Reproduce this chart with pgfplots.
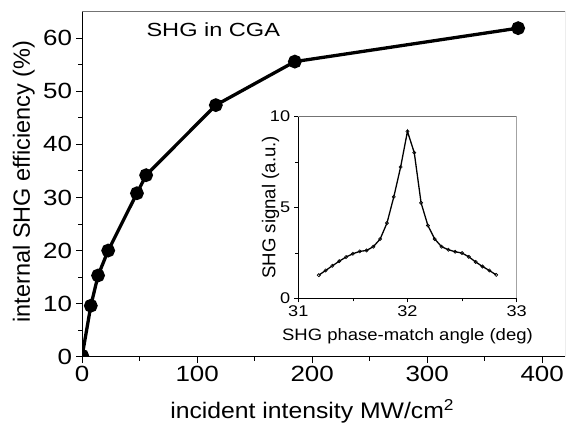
\documentclass[border=0pt]{standalone}
\usepackage{fontspec}
\setmainfont{Liberation Sans}
\usepackage{pgfplots}
\pgfplotsset{compat=1.18}
\usetikzlibrary{calc}
\begin{document}
\begin{tikzpicture}
\useasboundingbox (-82.2pt,-67.3pt) rectangle (483.8pt,356.7pt);
\begin{axis}[
  at={(0pt,0pt)}, anchor=south west,
  scale only axis, width=483pt, height=345pt,
  xmin=0, xmax=420, ymin=0, ymax=65,
  axis x line*=bottom, axis y line*=left,
  clip=true, clip marker paths=true,
  xtick={0,100,200,300,400}, ytick={0,10,20,30,40,50,60},
  minor x tick num=1, minor y tick num=1,
  tick align=outside,
  major tick length=6pt, minor tick length=4pt,
  every tick/.style={black, line width=0.9pt},
  axis line style={line width=1.1pt, -},
  /pgf/number format/assume math mode=true,
  tick label style={font=\fontsize{22}{26}\selectfont, xscale=1.18},
  xlabel={incident intensity MW/cm\textsuperscript{2}},
  ylabel={internal SHG efficiency (\%)},
  xlabel style={font=\fontsize{22.5}{27}\selectfont, xscale=1.1, at={($(axis description cs:0.4762,0)+(0,-61.8pt)$)}, anchor=base},
  ylabel style={font=\fontsize{23.5}{28}\selectfont, at={($(axis description cs:0,0.5)+(-52.2pt,2.7pt)$)}, anchor=base},
]
\addplot[black, line width=3.3pt, mark=*, mark size=5.2pt, mark options={solid}] coordinates {
(0,0.2) (7.5,9.6) (13.8,15.3) (22.6,20.0) (47.6,30.8) (55.6,34.2) (116.2,47.4) (184.9,55.6) (379.1,61.9)
};
\draw[black!55, line width=0.6pt] (rel axis cs:0,1) -- (rel axis cs:1,1) -- (rel axis cs:1,0);
\node[anchor=base, font=\fontsize{19}{23}\selectfont, xscale=1.24] at (axis cs:114,60.3) {SHG in CGA};
\end{axis}
\begin{axis}[
  at={(216.1pt,58.4pt)}, anchor=south west,
  scale only axis, width=218.3pt, height=181.8pt,
  xmin=31, xmax=33, ymin=0, ymax=10,
  axis x line*=bottom, axis y line*=left,
  xtick={31,32,33}, ytick={0,5,10},
  minor x tick num=1, minor y tick num=1,
  tick align=outside,
  major tick length=4pt, minor tick length=3pt,
  every tick/.style={black, line width=0.7pt},
  axis line style={line width=0.8pt, -},
  axis background/.style={fill=white},
  /pgf/number format/assume math mode=true,
  tick label style={font=\fontsize{15.5}{18}\selectfont, xscale=1.17},
  xlabel={SHG phase-match angle (deg)},
  ylabel={SHG signal (a.u.)},
  xlabel style={font=\fontsize{16.5}{20}\selectfont, xscale=1.12, at={($(axis description cs:0.5,0)+(0,-42.4pt)$)}, anchor=base},
  ylabel style={font=\fontsize{18.6}{22}\selectfont, at={($(axis description cs:0,0.5)+(-23pt,0)$)}, anchor=base},
]
\addplot[black, line width=1.3pt, mark=o, mark size=1.6pt, mark options={solid, fill=white, line width=0.6pt}] coordinates {
(31.1875,1.27) (31.25,1.53) (31.3125,1.79) (31.375,2.04) (31.4375,2.27) (31.5,2.45) (31.5625,2.58) (31.625,2.63) (31.6875,2.84)
(31.75,3.26) (31.8125,4.14) (31.875,5.58) (31.9375,7.22) (32.0,9.18) (32.0625,8.01) (32.125,5.25) (32.1875,4.0) (32.25,3.26)
(32.3125,2.84) (32.375,2.67) (32.4375,2.56) (32.5,2.49) (32.5625,2.28) (32.625,2.0) (32.6875,1.75) (32.75,1.53) (32.8125,1.29)
};
\draw[black!55, line width=0.6pt] (rel axis cs:0,1) -- (rel axis cs:1,1) -- (rel axis cs:1,0);
\end{axis}
\end{tikzpicture}
\end{document}
